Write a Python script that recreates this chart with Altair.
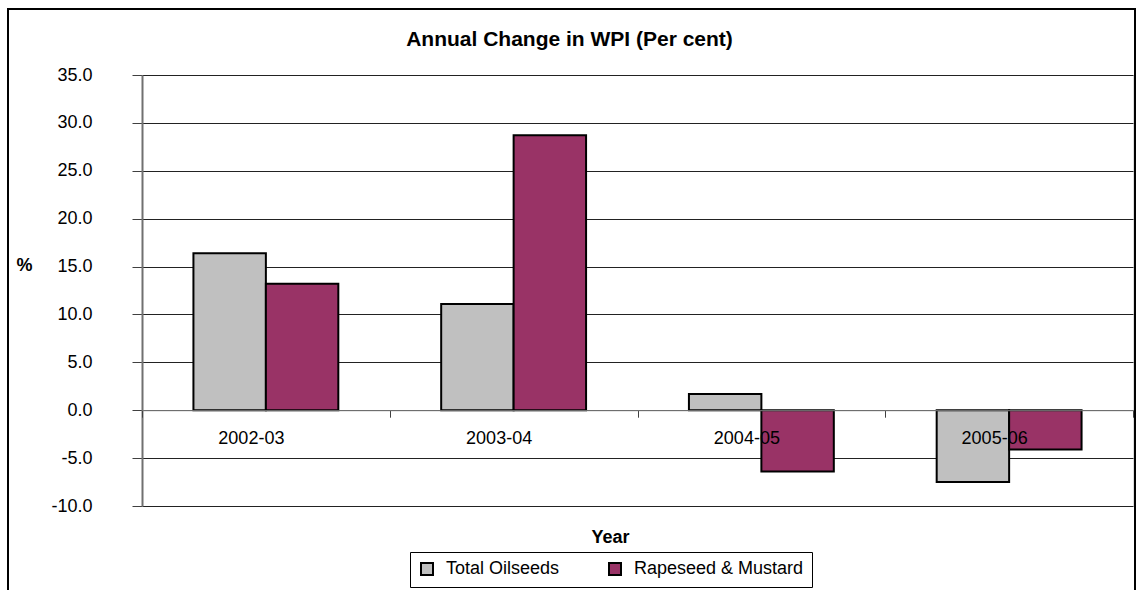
import altair as alt
import pandas as pd

years = ["2002-03", "2003-04", "2004-05", "2005-06"]
total_oilseeds = [16.4, 11.1, 1.7, -7.5]
rapeseed_mustard = [13.2, 28.7, -6.4, -4.1]
series = ["Total Oilseeds", "Rapeseed & Mustard"]
colors = ["#C0C0C0", "#993366"]
y_ticks = [-10, -5, 0, 5, 10, 15, 20, 25, 30, 35]

rows = []
for i, yr in enumerate(years):
    rows.append({"year": yr, "series": series[0], "value": total_oilseeds[i]})
    rows.append({"year": yr, "series": series[1], "value": rapeseed_mustard[i]})
df = pd.DataFrame(rows)

W, H = 991, 431
FONT = "Liberation Sans"

bars = alt.Chart(df).mark_bar(stroke="black", strokeWidth=2).encode(
    x=alt.X(
        "year:N", sort=years,
        scale=alt.Scale(paddingInner=0, paddingOuter=0),
        axis=alt.Axis(
            title="Year", labelAngle=0, offset=-95.8, tickBand="extent",
            ticks=True, tickSize=7, tickColor="#404040", domainColor="#808080",
            labelFontSize=18, labelFont=FONT, labelColor="black", labelPadding=12,
            labelOffset=-15,
            titleFontSize=18, titleFont=FONT, titleFontWeight="bold", titleColor="black",
            titleX=468, titleY=127.5, titleBaseline="middle", zindex=1,
        ),
    ),
    xOffset=alt.XOffset("series:N", sort=series,
                        scale=alt.Scale(paddingOuter=0.71, paddingInner=0)),
    y=alt.Y(
        "value:Q", stack=False,
        scale=alt.Scale(domain=[-10, 35], nice=False, zero=False),
        axis=alt.Axis(
            values=y_ticks,
            labelExpr="(datum.value < 0 ? '-' : '') + format(abs(datum.value), '.1f')",
            title="%", titleAngle=0,
            titleX=-118, titleY=190.5, titleAlign="center", titleBaseline="middle",
            titleFontSize=18, titleFont=FONT, titleFontWeight="bold", titleColor="black",
            labelFontSize=18, labelFont=FONT, labelColor="black", labelPadding=40,
            tickSize=10, tickColor="#404040", domainColor="#707070", domainWidth=2,
            grid=True, gridColor="#222222", gridWidth=1,
        ),
    ),
    color=alt.Color(
        "series:N", sort=series,
        scale=alt.Scale(domain=series, range=colors),
        legend=alt.Legend(
            title=None, orient="none", legendX=268, legendY=477, direction="horizontal",
            strokeColor="black", padding=8, symbolType="square", symbolSize=144,
            symbolStrokeColor="black", symbolStrokeWidth=2, labelFontSize=18,
            labelFont=FONT, labelColor="black", columnPadding=45, labelOffset=10,
            labelLimit=400,
        ),
    ),
)

frame = alt.Chart(pd.DataFrame({"a": [0]})).mark_rect(
    fill="transparent", stroke="black", strokeWidth=2
).encode(
    x=alt.value(-134), x2=alt.value(993), y=alt.value(-66), y2=alt.value(540)
)

chart = alt.layer(frame, bars).properties(
    width=W, height=H,
    title=alt.Title("Annual Change in WPI (Per cent)", fontSize=21, font=FONT,
                    fontWeight="bold", color="black", dx=-68, dy=56, offset=14,
                    anchor="middle"),
    autosize=alt.AutoSizeParams(type="none"),
    padding={"left": 142, "top": 75, "right": 5, "bottom": 84},
).configure_view(strokeWidth=0).configure(background="white")

chart.save("out.html", embed_options={"renderer": "svg", "actions": False})
